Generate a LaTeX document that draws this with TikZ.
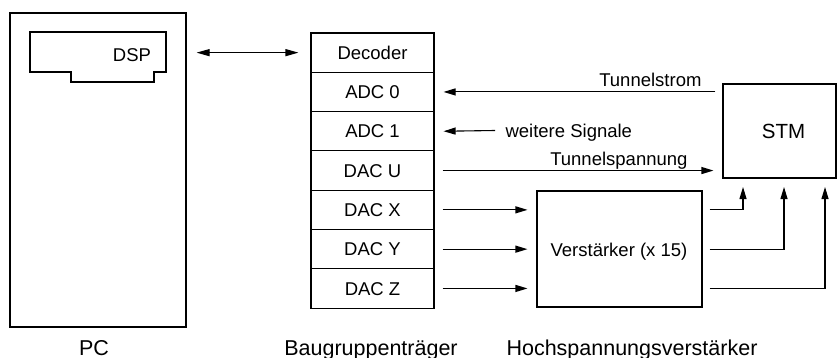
\documentclass[tikz,border=0pt]{standalone}
\usepackage{fontspec}
\setmainfont{Liberation Sans}
\usetikzlibrary{arrows.meta,calc}
\begin{document}
\begin{tikzpicture}[x=1pt,y=-1pt, line width=1.1pt,
  box/.style={draw, inner sep=0pt},
  row/.style={draw, minimum width=123pt, minimum height=39.3pt, inner sep=0pt,
    font=\fontsize{18.5}{20}\selectfont, text height=13.2pt, text depth=0pt},
  lbl/.style={font=\fontsize{18.5}{20}\selectfont, inner sep=0pt},
  clbl/.style={lbl, text height=13.2pt, text depth=0pt},
  captxt/.style={font=\fontsize{21.5}{24}\selectfont, inner sep=0pt, anchor=base},
  arr/.style={-{Triangle[length=12pt,width=7pt]}},
  darr/.style={{Triangle[length=13pt,width=7pt]}-{Triangle[length=13pt,width=7pt]}},
]
\useasboundingbox (0,0) rectangle (837,358);

% PC
\node[box, minimum width=176pt, minimum height=314pt] (pc) at (98,170) {};
\draw (30,32) -- (166,32) -- (166,72) -- (154,72) -- (154,82) -- (71,82) -- (71,72) -- (30,72) -- cycle;
\node[clbl] (dsp) at (132,55) {DSP};

% Baugruppentraeger
\node[row] (dec)  at (372.5,52.65)  {Decoder};
\node[row] (adc0) at (372.5,91.95)  {ADC 0};
\node[row] (adc1) at (372.5,131.25) {ADC 1};
\node[row] (dacu) at (372.5,170.55) {DAC U};
\node[row] (dacx) at (372.5,209.85) {DAC X};
\node[row] (dacy) at (372.5,249.15) {DAC Y};
\node[row] (dacz) at (372.5,288.45) {DAC Z};

% STM
\node[box, minimum width=113pt, minimum height=94pt] (stm) at (779.5,131) {};
\node[lbl, font=\fontsize{20.5}{22}\selectfont, text height=14.7pt, text depth=0pt] (stmt) at (783.5,131) {STM};

% Verstaerker
\node[box, minimum width=165pt, minimum height=116pt] (verst) at (619.5,249) {};
\node[clbl] (verstt) at (619,250) {Verstärker (x 15)};

% PC <-> Decoder
\draw[darr] ($(pc.east |- dec.west)+(10,0)$) -- ($(dec.west)+(-12,0)$);

% Tunnelstrom
\coordinate (tsin) at ($(stm.west |- adc0.east)+(-7,0)$);
\draw[arr] (tsin) -- ($(adc0.east)+(9,0)$);
\node[lbl, anchor=base east] (tstr) at (702,87) {Tunnelstrom};

% weitere Signale
\node[clbl, anchor=west] (ws) at (505,130.5) {weitere Signale};
\draw[arr] ($(ws.west)+(-10,0)$) -- ($(adc1.east)+(9,0)$);

% Tunnelspannung
\draw[arr] ($(dacu.east)+(8,0)$) -- ($(stm.west |- dacu.east)+(-9,0)$);
\node[lbl, anchor=base east] (tsp) at (688,165) {Tunnelspannung};

% DAC -> Verstaerker
\foreach \r in {dacx,dacy,dacz}
  \draw[arr] ($(\r.east)+(8,0)$) -- ($(verst.west |- \r.east)+(-9,0)$);

% Verstaerker -> STM
\coordinate (in1) at (743,187);
\coordinate (in2) at (784,187);
\coordinate (in3) at (825,187);
\draw[arr] ($(verst.east |- dacx.east)+(7,0)$) -| (in1);
\draw[arr] ($(verst.east |- dacy.east)+(7,0)$) -| (in2);
\draw[arr] ($(verst.east |- dacz.east)+(7,0)$) -| (in3);

% captions
\node[captxt] (cpc) at (94,355) {PC};
\node[captxt] (cbg) at (371,355) {Baugruppenträger};
\node[captxt] (chv) at (632,355) {Hochspannungsverstärker};
\end{tikzpicture}
\end{document}
